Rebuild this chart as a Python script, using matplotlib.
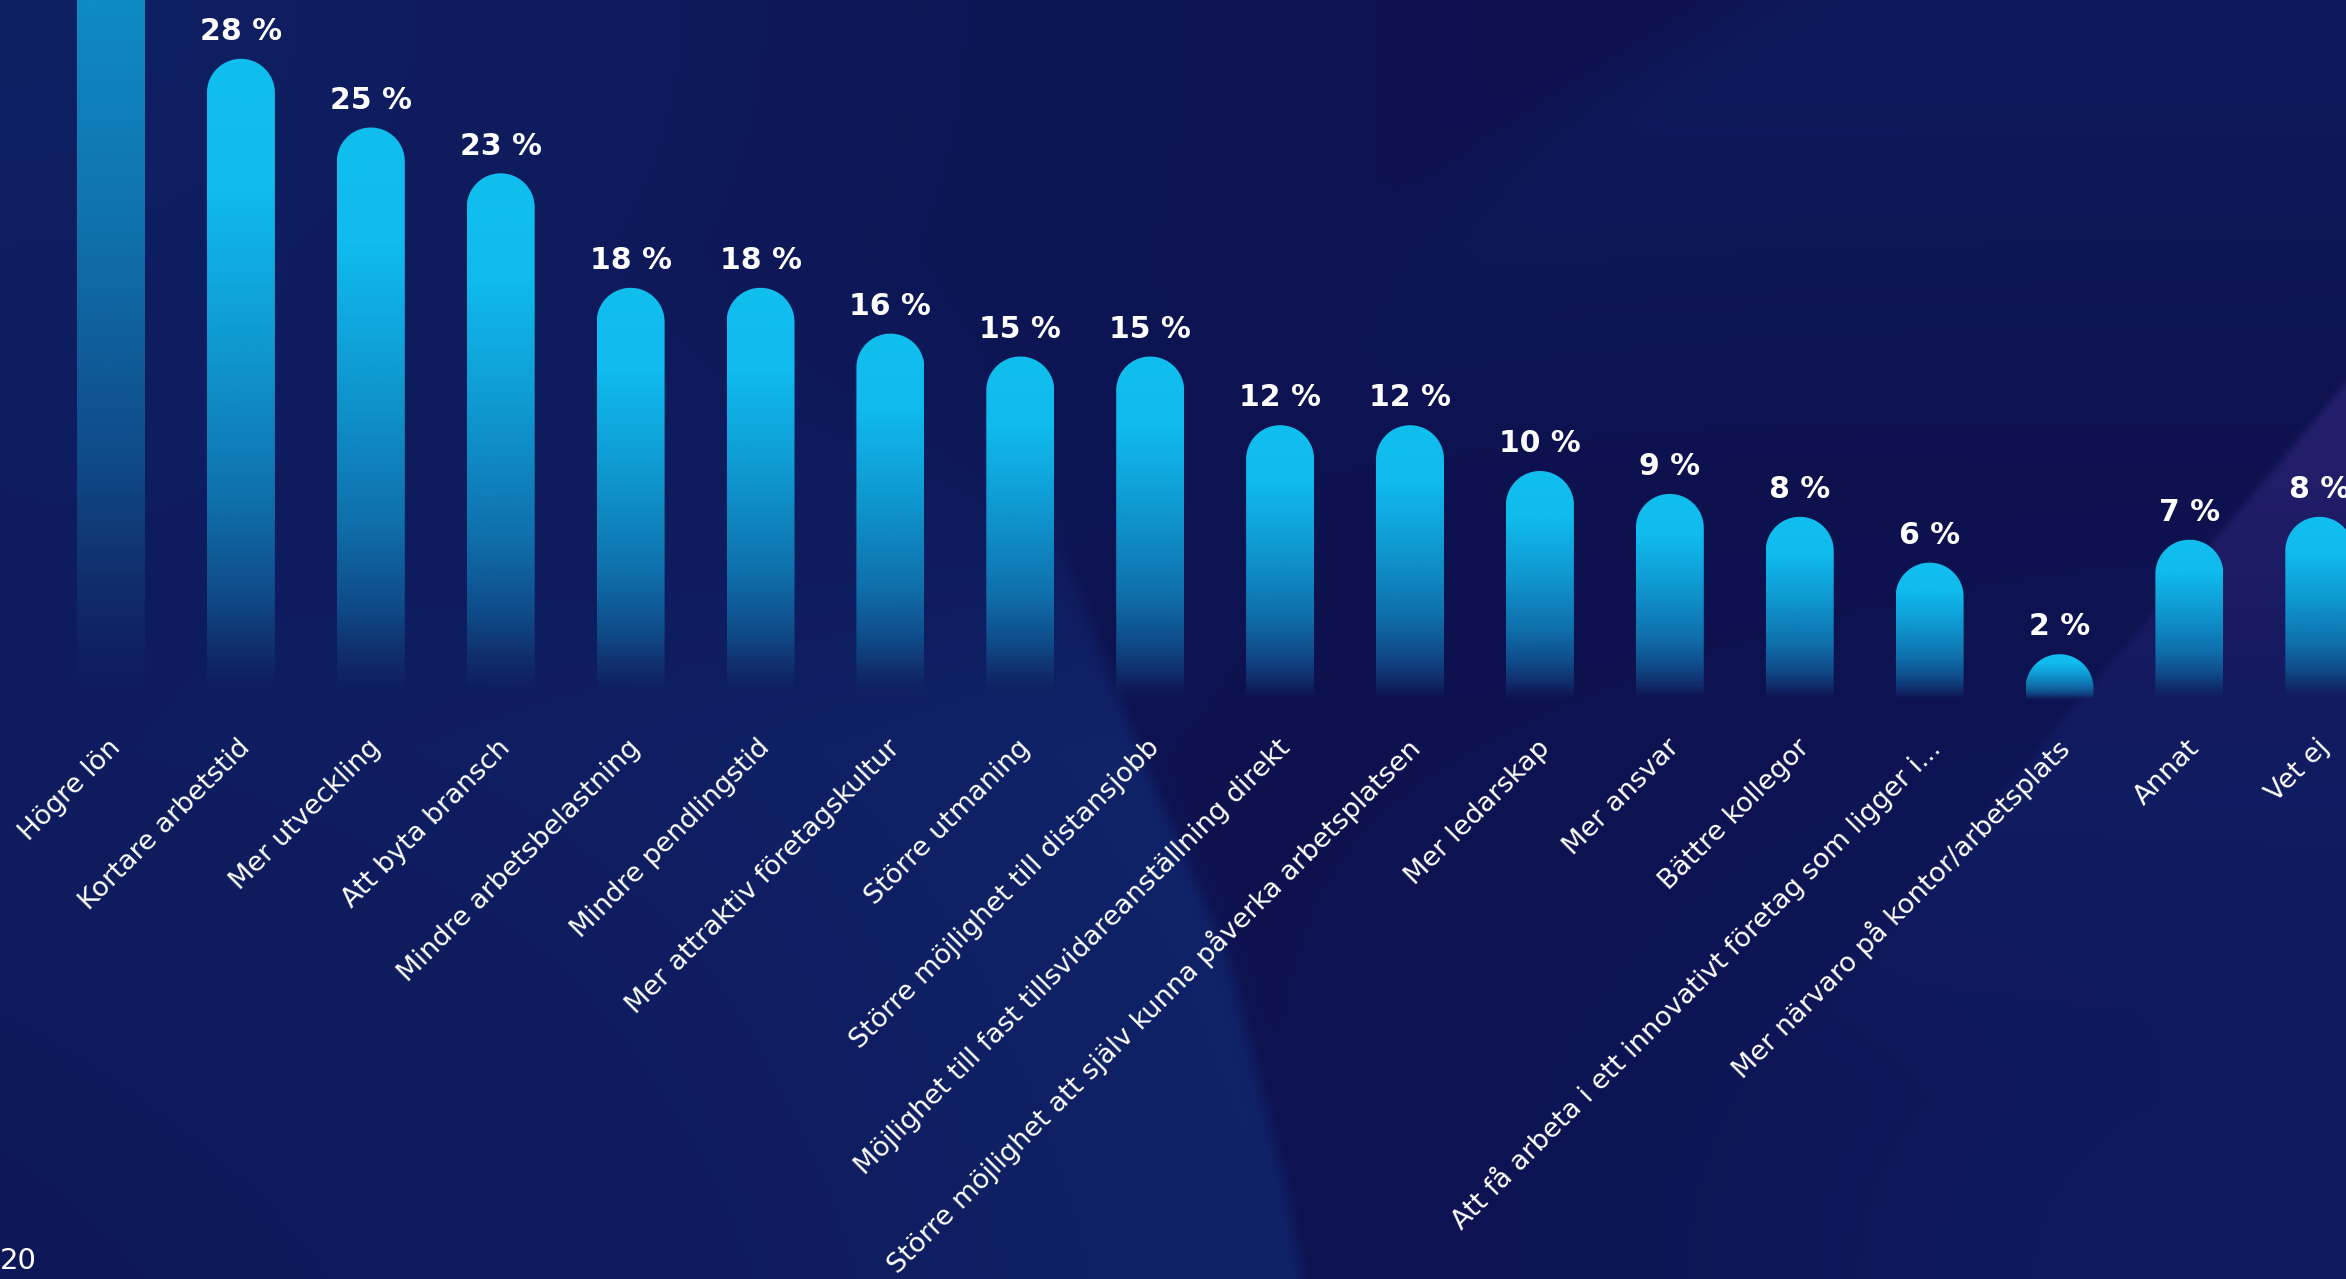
import numpy as np
import matplotlib
matplotlib.use("Agg")
import matplotlib.pyplot as plt
from matplotlib.path import Path
from matplotlib.patches import PathPatch
from matplotlib.colors import LinearSegmentedColormap, to_rgb

plt.rcParams['font.family'] = ['DejaVu Sans']

# survey answers, share of respondents in percent
categories = [
    "Högre lön", "Kortare arbetstid", "Mer utveckling", "Att byta bransch",
    "Mindre arbetsbelastning", "Mindre pendlingstid", "Mer attraktiv företagskultur",
    "Större utmaning", "Större möjlighet till distansjobb",
    "Möjlighet till fast tillsvidareanställning direkt",
    "Större möjlighet att själv kunna påverka arbetsplatsen",
    "Mer ledarskap", "Mer ansvar", "Bättre kollegor",
    "Att få arbeta i ett innovativt företag som ligger i...",
    "Mer närvaro på kontor/arbetsplats", "Annat", "Vet ej",
]
values = [65, 28, 25, 23, 18, 18, 16, 15, 15, 12, 12, 10, 9, 8, 6, 2, 7, 8]
page_number = "20"

W, H = 2346, 1279
DPI = 100
base_px = 700        # baseline, pixels from top
first_px = 111       # centre of the first bar
step_px = 129.9      # distance between bars
bar_px = 68          # bar width
px_per_pct = 22.9    # vertical scale

fig = plt.figure(figsize=(W / DPI, H / DPI), dpi=DPI)

# ---- background -------------------------------------------------------
def soft(d, w):
    return 1.0 / (1.0 + np.exp(-np.clip(d / w, -60, 60)))

yy, xx = np.mgrid[0:H:3, 0:W:3].astype(float)
bg = np.zeros(xx.shape + (3,))
bg[:] = np.array(to_rgb("#0d0f4b"))

def blend(img, color, w):
    c = np.array(to_rgb(color))
    return img * (1 - w[..., None]) + c * w[..., None]

# lighter top-left corner
w = np.exp(-((xx / 1100) ** 2 + (yy / 900) ** 2)) * 0.95
bg = blend(bg, "#0f2064", w)

# lighter lower-left area, sharp curved edge in the middle
ya = [0, 300, 553, 748, 957, 1197, 1279]
xa = [700, 900, 1062, 1137, 1227, 1287, 1301]
sa = [260, 160, 5, 4, 4, 4, 4]
xA = np.interp(yy, ya, xa)
sA = np.interp(yy, ya, sa)
inside = soft(xA - xx, sA)
w = inside * np.clip(np.exp(-(xA - xx) / 1400), 0, 1) * np.clip((yy - 250) / 500, 0, 1)
bg = blend(bg, "#10246a", w * 0.95)

# upper right area beyond a soft curve, darkening downwards
yb = [0, 60, 135, 239, 344, 449, 560]
xb = [1735, 1646, 1541, 1421, 1346, 1316, 1330]
xB = np.interp(yy, yb, xb)
w = soft(xx - xB, 25) * np.clip((480 - yy) / 380, 0, 1)
bg = blend(bg, "#0f1a5c", w * 0.95)

# lighter lower right
w = np.exp(-(((xx - 2346) / 850) ** 2 + ((yy - 1279) / 600) ** 2))
bg = blend(bg, "#0f1d62", w * 0.9)

# purple wedge at the right edge, fading downwards
d = ((xx - 2346) * (547 - 380) + (yy - 380) * (2346 - 2207)) / 218.0
edge = soft(d, 2.0)
w = edge * np.clip((800 - yy) / 380, 0, 1) ** 0.7
bg = blend(bg, "#241f6c", w)
w = edge * np.clip((yy - 550) / 250, 0, 1) * np.clip((1100 - yy) / 300, 0, 1)
bg = blend(bg, "#111e64", w * 0.8)

bg_ax = fig.add_axes([0, 0, 1, 1])
bg_ax.imshow(bg, extent=(0, W, H, 0), interpolation="bilinear", aspect="auto")
bg_ax.set_xlim(0, W)
bg_ax.set_ylim(H, 0)
bg_ax.axis("off")

# ---- bars -------------------------------------------------------------
ax = fig.add_axes([0, (H - base_px) / H, 1, base_px / H])
ax.set_facecolor("none")
ax.axis("off")

half_w = bar_px / step_px / 2
cap_h = (bar_px / 2) / px_per_pct

bar_cmap = LinearSegmentedColormap.from_list("bar", [
    (0.00, "#10225e"), (0.08, "#112e6c"), (0.16, "#0f4a88"), (0.31, "#0f70ac"),
    (0.55, "#0f98d0"), (0.66, "#0fa8de"), (0.80, "#10bbed"), (1.00, "#10bfef"),
])
t = np.linspace(0, 1, 256)
grad = bar_cmap(t)
grad[:, 3] = np.clip(t / 0.07, 0, 1)
grad = grad[:, None, :]

theta = np.linspace(np.pi, 0, 40)
for i, v in enumerate(values):
    top = v - cap_h
    verts = [(i - half_w, 0), (i - half_w, top)]
    verts += [(i + half_w * np.cos(a), top + cap_h * np.sin(a)) for a in theta]
    verts += [(i + half_w, 0), (i - half_w, 0)]
    codes = [Path.MOVETO] + [Path.LINETO] * (len(verts) - 2) + [Path.CLOSEPOLY]
    patch = PathPatch(Path(verts, codes), facecolor="none", edgecolor="none")
    ax.add_patch(patch)
    im = ax.imshow(grad, extent=(i - half_w, i + half_w, 0, v), origin="lower",
                   aspect="auto", interpolation="bilinear", zorder=2)
    im.set_clip_path(patch)

    if v < base_px / px_per_pct - 2:
        ax.annotate(f"{v} %", xy=(i, v), xytext=(0, 13.5), textcoords="offset points",
                    ha="center", va="baseline", fontsize=21.5, fontweight="bold",
                    color="white")

    ax.annotate(categories[i], xy=(i, 0), xytext=(4.3, -31.7), textcoords="offset points",
                rotation=45, rotation_mode="anchor", ha="right", va="center",
                fontsize=19.5, color="white", annotation_clip=False)

ax.set_xlim(-first_px / step_px, (W - first_px) / step_px)
ax.set_ylim(0, base_px / px_per_pct)

fig.text(0.0, (H - 1269) / H, page_number, fontsize=21, color="white",
         ha="left", va="baseline")

fig.savefig("out.png", dpi=DPI)
